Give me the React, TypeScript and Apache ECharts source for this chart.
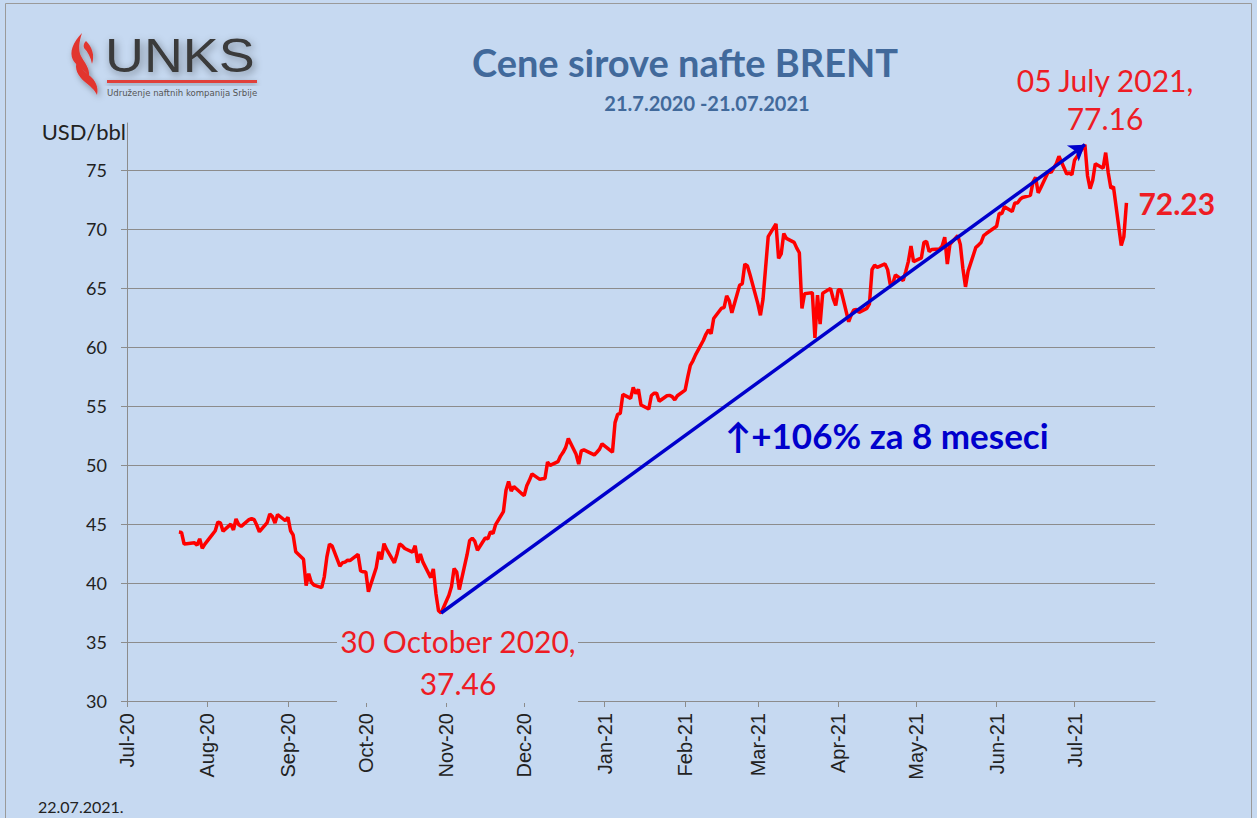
import { useEffect, useRef } from "react";
import * as echarts from "echarts";

// ---- data (ICE Brent, USD/bbl) ----
const dates: string[] = [
  "2020-07-21","2020-07-22","2020-07-23","2020-07-24","2020-07-27","2020-07-28","2020-07-29","2020-07-30","2020-07-31",
  "2020-08-03","2020-08-04","2020-08-05","2020-08-06","2020-08-07","2020-08-10","2020-08-11","2020-08-12","2020-08-13","2020-08-14","2020-08-17","2020-08-18","2020-08-19","2020-08-20","2020-08-21","2020-08-24","2020-08-25","2020-08-26","2020-08-27","2020-08-28","2020-08-31",
  "2020-09-01","2020-09-02","2020-09-03","2020-09-04","2020-09-07","2020-09-08","2020-09-09","2020-09-10","2020-09-11","2020-09-14","2020-09-15","2020-09-16","2020-09-17","2020-09-18","2020-09-21","2020-09-22","2020-09-23","2020-09-24","2020-09-25","2020-09-28","2020-09-29","2020-09-30",
  "2020-10-01","2020-10-02","2020-10-05","2020-10-06","2020-10-07","2020-10-08","2020-10-09","2020-10-12","2020-10-13","2020-10-14","2020-10-15","2020-10-16","2020-10-19","2020-10-20","2020-10-21","2020-10-22","2020-10-23","2020-10-26","2020-10-27","2020-10-28","2020-10-29","2020-10-30",
  "2020-11-02","2020-11-03","2020-11-04","2020-11-05","2020-11-06","2020-11-09","2020-11-10","2020-11-11","2020-11-12","2020-11-13","2020-11-16","2020-11-17","2020-11-18","2020-11-19","2020-11-20","2020-11-23","2020-11-24","2020-11-25","2020-11-26","2020-11-27","2020-11-30",
  "2020-12-01","2020-12-02","2020-12-03","2020-12-04","2020-12-07","2020-12-08","2020-12-09","2020-12-10","2020-12-11","2020-12-14","2020-12-15","2020-12-16","2020-12-17","2020-12-18","2020-12-21","2020-12-22","2020-12-23","2020-12-24","2020-12-28","2020-12-29","2020-12-30","2020-12-31",
  "2021-01-04","2021-01-05","2021-01-06","2021-01-07","2021-01-08","2021-01-11","2021-01-12","2021-01-13","2021-01-14","2021-01-15","2021-01-18","2021-01-19","2021-01-20","2021-01-21","2021-01-22","2021-01-25","2021-01-26","2021-01-27","2021-01-28","2021-01-29",
  "2021-02-01","2021-02-02","2021-02-03","2021-02-04","2021-02-05","2021-02-08","2021-02-09","2021-02-10","2021-02-11","2021-02-12","2021-02-15","2021-02-16","2021-02-17","2021-02-18","2021-02-19","2021-02-22","2021-02-23","2021-02-24","2021-02-25","2021-02-26",
  "2021-03-01","2021-03-02","2021-03-03","2021-03-04","2021-03-05","2021-03-08","2021-03-09","2021-03-10","2021-03-11","2021-03-12","2021-03-15","2021-03-16","2021-03-17","2021-03-18","2021-03-19","2021-03-22","2021-03-23","2021-03-24","2021-03-25","2021-03-26","2021-03-29","2021-03-30","2021-03-31",
  "2021-04-01","2021-04-02","2021-04-05","2021-04-06","2021-04-07","2021-04-08","2021-04-09","2021-04-12","2021-04-13","2021-04-14","2021-04-15","2021-04-16","2021-04-19","2021-04-20","2021-04-21","2021-04-22","2021-04-23","2021-04-26","2021-04-27","2021-04-28","2021-04-29","2021-04-30",
  "2021-05-03","2021-05-04","2021-05-05","2021-05-06","2021-05-07","2021-05-10","2021-05-11","2021-05-12","2021-05-13","2021-05-14","2021-05-17","2021-05-18","2021-05-19","2021-05-20","2021-05-21","2021-05-24","2021-05-25","2021-05-26","2021-05-27","2021-05-28",
  "2021-06-01","2021-06-02","2021-06-03","2021-06-04","2021-06-07","2021-06-08","2021-06-09","2021-06-10","2021-06-11","2021-06-14","2021-06-15","2021-06-16","2021-06-17","2021-06-18","2021-06-21","2021-06-22","2021-06-23","2021-06-24","2021-06-25","2021-06-28","2021-06-29","2021-06-30",
  "2021-07-01","2021-07-02","2021-07-05","2021-07-06","2021-07-07","2021-07-08","2021-07-09","2021-07-12","2021-07-13","2021-07-14","2021-07-15","2021-07-16","2021-07-19","2021-07-20","2021-07-21"
];

const prices: number[] = [
  44.32,44.29,43.31,43.34,43.41,43.22,43.75,42.94,43.30,
  44.15,44.43,45.17,45.09,44.40,44.99,44.50,45.43,44.96,44.80,45.37,45.46,45.37,44.90,44.35,45.13,45.86,45.64,45.09,45.81,45.28,
  45.58,44.43,44.07,42.66,42.01,39.78,40.79,40.06,39.83,39.61,40.53,42.22,43.30,43.15,41.44,41.72,41.77,41.94,41.92,42.43,41.03,40.95,
  40.93,39.27,41.29,42.65,41.99,43.34,42.85,41.72,42.45,43.32,43.16,42.93,42.62,43.16,41.73,42.46,41.77,40.46,41.20,39.12,37.65,37.46,
  38.97,39.71,41.23,40.93,39.45,42.40,43.61,43.80,43.53,42.78,43.82,43.75,44.34,44.20,44.96,46.06,47.86,48.61,47.80,48.18,47.59,
  47.42,48.25,48.71,49.25,48.79,48.84,48.86,50.25,49.97,50.29,50.76,51.08,51.50,52.26,50.91,50.08,51.20,51.29,50.86,51.09,51.34,51.80,
  51.09,53.60,54.30,54.38,55.99,55.66,56.58,56.06,56.42,55.10,54.75,55.90,56.08,56.10,55.41,55.88,55.91,55.81,55.53,55.88,
  56.35,57.46,58.46,58.84,59.34,60.56,61.09,61.47,61.14,62.43,63.30,63.35,64.34,63.93,62.91,65.24,65.37,67.04,66.88,66.13,
  63.69,62.70,64.07,66.74,69.36,70.45,67.52,67.90,69.63,69.22,68.88,68.39,68.00,63.28,64.53,64.62,60.79,64.41,61.95,64.57,64.98,64.14,63.54,
  64.86,64.86,62.15,62.74,63.16,63.20,62.95,63.28,63.67,66.58,66.94,66.77,67.05,66.57,65.32,65.40,66.11,65.65,66.42,67.27,68.56,67.25,
  67.56,68.88,68.96,68.09,68.28,68.32,68.55,69.32,67.05,68.71,69.46,68.71,66.66,65.11,66.44,68.46,68.65,68.87,69.46,69.63,
  70.25,71.35,71.31,71.89,71.49,72.22,72.22,72.52,72.69,72.86,73.99,74.39,73.08,73.51,74.90,74.81,75.19,75.56,76.18,74.68,74.76,74.62,
  75.84,76.17,77.16,74.53,73.43,74.12,75.55,75.16,76.49,74.76,73.47,73.59,68.62,69.35,72.23
];

const monthTicks: string[] = [
  "2020-07-01","2020-08-01","2020-09-01","2020-10-01","2020-11-01","2020-12-01",
  "2021-01-01","2021-02-01","2021-03-01","2021-04-01","2021-05-01","2021-06-01","2021-07-01"
];
const monthAbbr: string[] = ["Jan","Feb","Mar","Apr","May","Jun","Jul","Aug","Sep","Oct","Nov","Dec"];
const yTicks: number[] = [30, 35, 40, 45, 50, 55, 60, 65, 70, 75];
const xRange: string[] = ["2020-07-01", "2021-08-01"];
const yRange: number[] = [30, 79];

const lowPoint = { date: "2020-10-30", value: 37.46, label: "30 October 2020," };
const highPoint = { date: "2021-07-05", value: 77.16, label: "05 July 2021," };
const titleText = "Cene sirove nafte BRENT";
const subtitleText = "21.7.2020 -21.07.2021";
const growthText = "\u2191+106% za 8 meseci";
const unitText = "USD/bbl";
const stampText = "22.07.2021.";
const logoName = "UNKS";
const logoTagline = "Udru\u017eenje naftnih kompanija Srbije";

const ts = (d: string) => new Date(d + "T00:00:00Z").getTime();

const BG = "#C6D9F1";
const RED = "#FF0000";
const LABEL_RED = "#EE1C24";
const BLUE = "#0000CC";
const TITLE_BLUE = "#41699B";
const GRID = "#8C8C8C";

const FLAME_D =
  "M82 33 C73 42 69 52 73 60 C76 66 84 69 89 76 C90 68 84 62 81 56 C78 50 79 42 82 33 Z " +
  "M86 41 C92 47 95 55 92 64 C91 58 88 52 84 48 C83 45 84 43 86 41 Z " +
  "M77 61 C74 69 78 76 85 82 C90 86 95 90 97 95 C99 87 95 80 90 76 C84 71 79 67 77 61 Z";

let shapeRegistered = false;
function ensureShape() {
  if (shapeRegistered) return;
  echarts.graphic.registerShape("logo", echarts.graphic.extendPath(FLAME_D, {}) as any);
  shapeRegistered = true;
}

export default function App() {
  const ref = useRef<HTMLDivElement>(null);

  useEffect(() => {
    document.body.style.margin = "0";
    ensureShape();
    const chart = echarts.init(ref.current!, null, { renderer: "svg" });
    const seriesData = dates.map((d, i) => [ts(d), prices[i]]);
    const monthTs = monthTicks.map(ts);

    const option: any = {
      animation: false,
      backgroundColor: BG,
      grid: { left: 127, right: 102, top: 123, bottom: 117, containLabel: false, outerBoundsMode: "none" },
      xAxis: {
        type: "value",
        min: ts(xRange[0]),
        max: ts(xRange[1]),
        axisLine: { show: true, lineStyle: { color: GRID, width: 1 } },
        axisTick: { show: true, customValues: monthTs, length: 6, lineStyle: { color: GRID } },
        axisLabel: {
          customValues: monthTs,
          rotate: 90,
          margin: 12,
          color: "#222",
          fontFamily: "Liberation Sans",
          fontSize: 20,
          hideOverlap: false,
          formatter: (v: number) => {
            const d = new Date(v);
            return monthAbbr[d.getUTCMonth()] + "-" + String(d.getUTCFullYear()).slice(2);
          },
        },
        splitLine: { show: false },
      },
      yAxis: {
        type: "value",
        min: yRange[0],
        max: yRange[1],
        interval: 5,
        axisLine: { show: true, lineStyle: { color: GRID, width: 1 } },
        axisTick: { show: true, customValues: yTicks, length: 6, lineStyle: { color: GRID } },
        axisLabel: { customValues: yTicks, margin: 20, color: "#222", fontFamily: "Lato", fontSize: 18 },
        splitLine: { show: true, lineStyle: { color: GRID, width: 1 } },
      },
      series: [
        {
          type: "line",
          data: seriesData,
          showSymbol: false,
          symbol: "none",
          lineStyle: { color: RED, width: 3.5 },
          itemStyle: { color: RED },
          emphasis: { disabled: true },
          silent: true,
          z: 3,
          endLabel: {
            show: true,
            distance: 12,
            color: LABEL_RED,
            fontFamily: "Lato",
            fontWeight: "bold",
            fontSize: 30,
            formatter: (p: any) => Number(p.value[1]).toFixed(2),
          },
          markLine: {
            silent: true,
            symbol: ["none", "arrow"],
            symbolSize: 15,
            label: { show: false },
            lineStyle: { color: BLUE, width: 3.5, type: "solid" },
            emphasis: { disabled: true },
            data: [[
              { coord: [ts(lowPoint.date), lowPoint.value] },
              { coord: [ts(highPoint.date), highPoint.value] },
            ]],
          },
        },
      ],
      graphic: [
        { type: "rect", z: 100, shape: { x: 5.5, y: 3.5, width: 1246, height: 820 }, style: { fill: "none", stroke: "#9A9A9A", lineWidth: 1 } },
        // logo
        { type: "logo", z: 100, x: 0, y: 0, scaleX: 1, scaleY: 1, style: { fill: "#E2342F", shadowBlur: 6, shadowColor: "rgba(0,0,0,0.35)", shadowOffsetX: 2, shadowOffsetY: 3 } },
        { type: "text", z: 100, x: 105, y: 79, scaleX: 1.1, style: { text: logoName, fill: "#3A3A3A", font: "49px 'Liberation Sans'", align: "left", verticalAlign: "bottom", textShadowBlur: 8, textShadowColor: "rgba(0,0,0,0.4)", textShadowOffsetX: 2, textShadowOffsetY: 3 } },
        { type: "rect", z: 100, shape: { x: 107, y: 80, width: 150, height: 3 }, style: { fill: "#E0403A", shadowBlur: 5, shadowColor: "rgba(0,0,0,0.3)", shadowOffsetY: 2 } },
        { type: "text", z: 100, x: 107, y: 92, style: { text: logoTagline, fill: "#555", font: "9.5px 'Liberation Sans Narrow', 'DejaVu Sans Condensed', 'Liberation Sans'", align: "left", verticalAlign: "middle" } },
        // titles
        { type: "text", z: 100, x: 685, y: 62, style: { text: titleText, fill: TITLE_BLUE, font: "bold 38px Lato", align: "center", verticalAlign: "middle" } },
        { type: "text", z: 100, x: 707, y: 103, style: { text: subtitleText, fill: TITLE_BLUE, font: "bold 20px Lato", align: "center", verticalAlign: "middle" } },
        { type: "text", z: 100, x: 126, y: 131, style: { text: unitText, fill: "#222", font: "22px Lato", align: "right", verticalAlign: "middle" } },
        // annotations
        { type: "text", z: 100, x: 1105, y: 99, style: { text: highPoint.label + "\n" + highPoint.value.toFixed(2), fill: LABEL_RED, font: "30px Lato", lineHeight: 38, align: "center", verticalAlign: "middle" } },
        { type: "rect", z: 99, shape: { x: 337, y: 620, width: 241, height: 83 }, style: { fill: BG } },
        { type: "text", z: 100, x: 458, y: 662, style: { text: lowPoint.label + "\n" + lowPoint.value.toFixed(2), fill: LABEL_RED, font: "30px Lato", lineHeight: 42, align: "center", verticalAlign: "middle" } },
        { type: "text", z: 100, x: 725, y: 435, style: { text: growthText, fill: BLUE, font: "bold 35px Lato", align: "left", verticalAlign: "middle" } },
        { type: "text", z: 100, x: 38, y: 806, style: { text: stampText, fill: "#222", font: "16px Lato", align: "left", verticalAlign: "middle" } },
      ],
    };

    chart.setOption(option);
    return () => chart.dispose();
  }, []);

  return <div ref={ref} style={{ width: 1257, height: 818 }} />;
}
